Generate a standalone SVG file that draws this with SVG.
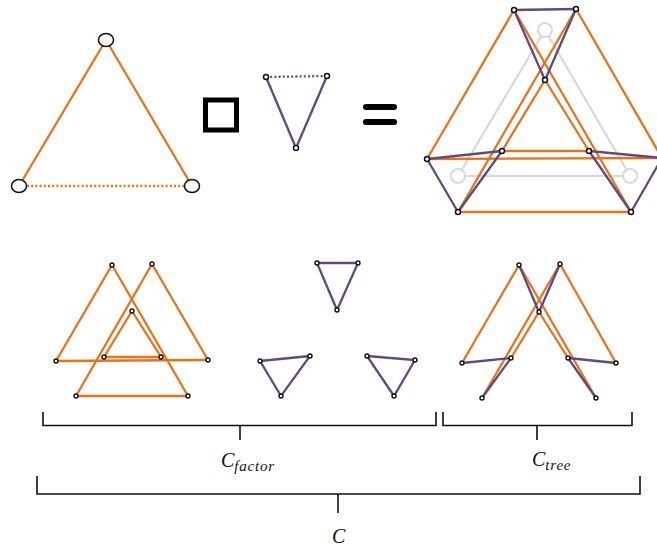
<svg xmlns="http://www.w3.org/2000/svg" width="657" height="548" viewBox="0 0 657 548">
<style>
.o{stroke:#e8731a;stroke-width:2.3;fill:none;stroke-linecap:round}
.p{stroke:#5f4a82;stroke-width:2.3;fill:none;stroke-linecap:round}
.g{stroke:#d9d9d9;stroke-width:2.2;fill:none}
.gn{stroke:#d9d9d9;stroke-width:2;fill:#fff}
.dot{stroke-dasharray:2 2.2;stroke-linecap:butt}
.n{fill:#fff;stroke:#111;stroke-width:1.5}
.bn{fill:#fff;stroke:#111;stroke-width:1.4}
.br{stroke:#111;stroke-width:1.6;fill:none}
.lbl{font-family:"Liberation Serif","DejaVu Serif",serif;font-style:italic;fill:#111}
.sub{font-size:15px;letter-spacing:0.8px}
</style>
<rect width="657" height="548" fill="#fff"/>
<g id="connectors">
  <line class="o" x1="106" y1="40" x2="19" y2="186"/>
  <line class="o" x1="106" y1="40" x2="192" y2="186"/>
  <line class="o dot" x1="27" y1="186" x2="184" y2="186"/>
  <line class="p dot" x1="266" y1="77" x2="327" y2="76"/>
  <line class="p" x1="266" y1="77" x2="296" y2="148"/>
  <line class="p" x1="327" y1="76" x2="296" y2="148"/>
  <polygon class="g" points="545,30 458,176 630,176"/>
  <line class="o" x1="514" y1="10" x2="427" y2="159"/>
  <line class="o" x1="427" y1="159" x2="662" y2="158"/>
  <line class="o" x1="576" y1="9" x2="662" y2="158"/>
  <line class="o" x1="576" y1="9" x2="458" y2="212"/>
  <line class="o" x1="458" y1="212" x2="631" y2="212"/>
  <line class="o" x1="514" y1="10" x2="631" y2="212"/>
  <line class="o" x1="545" y1="80" x2="502" y2="151"/>
  <line class="o" x1="545" y1="80" x2="589" y2="151"/>
  <line class="o" x1="502" y1="151" x2="589" y2="151"/>
  <line class="p" x1="514" y1="10" x2="576" y2="9"/>
  <line class="p" x1="514" y1="10" x2="545" y2="80"/>
  <line class="p" x1="576" y1="9" x2="545" y2="80"/>
  <line class="p" x1="427" y1="159" x2="502" y2="151"/>
  <line class="p" x1="427" y1="159" x2="458" y2="212"/>
  <line class="p" x1="502" y1="151" x2="458" y2="212"/>
  <line class="p" x1="589" y1="151" x2="662" y2="158"/>
  <line class="p" x1="589" y1="151" x2="631" y2="212"/>
  <line class="p" x1="662" y1="158" x2="631" y2="212"/>
  <line class="o" x1="112" y1="265" x2="56" y2="361"/>
  <line class="o" x1="56" y1="361" x2="208" y2="360"/>
  <line class="o" x1="208" y1="360" x2="152" y2="264"/>
  <line class="o" x1="152" y1="264" x2="76" y2="396"/>
  <line class="o" x1="76" y1="396" x2="188" y2="396"/>
  <line class="o" x1="188" y1="396" x2="112" y2="265"/>
  <line class="o" x1="132" y1="311" x2="104" y2="357"/>
  <line class="o" x1="132" y1="311" x2="161" y2="357"/>
  <line class="o" x1="104" y1="357" x2="161" y2="357"/>
  <polygon class="p" points="317,263 358,263 337,310"/>
  <polygon class="p" points="260,361 310,356 281,396"/>
  <polygon class="p" points="367,356 415,360 394,396"/>
  <line class="o" x1="519" y1="265" x2="462" y2="363"/>
  <line class="o" x1="560" y1="264" x2="616" y2="363"/>
  <line class="o" x1="560" y1="264" x2="482" y2="398"/>
  <line class="o" x1="519" y1="265" x2="596" y2="398"/>
  <line class="o" x1="539" y1="312" x2="511" y2="358"/>
  <line class="o" x1="539" y1="312" x2="568" y2="358"/>
  <line class="p" x1="519" y1="265" x2="539" y2="312"/>
  <line class="p" x1="560" y1="264" x2="539" y2="312"/>
  <line class="p" x1="462" y1="363" x2="511" y2="358"/>
  <line class="p" x1="511" y1="358" x2="482" y2="398"/>
  <line class="p" x1="568" y1="358" x2="616" y2="363"/>
  <line class="p" x1="568" y1="358" x2="596" y2="398"/>
</g>
<g id="factor-A">
  <ellipse class="n" cx="106" cy="40" rx="7.5" ry="6.5"/>
  <ellipse class="n" cx="19" cy="186" rx="7.5" ry="6.5"/>
  <ellipse class="n" cx="192" cy="186" rx="7.5" ry="6.5"/>
</g>
<g id="box-op">
  <rect x="205.5" y="100" width="31" height="30" fill="none" stroke="#000" stroke-width="5"/>
</g>
<g id="factor-B">
  <circle class="n" cx="266" cy="77" r="2.5"/>
  <circle class="n" cx="327" cy="76" r="2.5"/>
  <circle class="n" cx="296" cy="148" r="2.5"/>
</g>
<g id="equals">
  <line x1="366" y1="107" x2="394" y2="107" stroke="#000" stroke-width="6" stroke-linecap="round"/>
  <line x1="366" y1="122" x2="394" y2="122" stroke="#000" stroke-width="6" stroke-linecap="round"/>
</g>
<g id="product">
  <circle class="gn" cx="545" cy="30" r="7"/>
  <circle class="gn" cx="458" cy="176" r="7"/>
  <circle class="gn" cx="630" cy="176" r="7"/>
  <circle class="n" cx="514" cy="10" r="2.5"/>
  <circle class="n" cx="576" cy="9" r="2.5"/>
  <circle class="n" cx="545" cy="80" r="2.5"/>
  <circle class="n" cx="427" cy="159" r="2.5"/>
  <circle class="n" cx="502" cy="151" r="2.5"/>
  <circle class="n" cx="458" cy="212" r="2.5"/>
  <circle class="n" cx="589" cy="151" r="2.5"/>
  <circle class="n" cx="631" cy="212" r="2.5"/>
  <circle class="n" cx="662" cy="158" r="2.5"/>
</g>
<g id="c-factor">
  <circle class="bn" cx="112" cy="265" r="2"/>
  <circle class="bn" cx="152" cy="264" r="2"/>
  <circle class="bn" cx="132" cy="311" r="2"/>
  <circle class="bn" cx="56" cy="361" r="2"/>
  <circle class="bn" cx="104" cy="357" r="2"/>
  <circle class="bn" cx="161" cy="357" r="2"/>
  <circle class="bn" cx="208" cy="360" r="2"/>
  <circle class="bn" cx="76" cy="396" r="2"/>
  <circle class="bn" cx="188" cy="396" r="2"/>
  <circle class="bn" cx="317" cy="263" r="2"/>
  <circle class="bn" cx="358" cy="263" r="2"/>
  <circle class="bn" cx="337" cy="310" r="2"/>
  <circle class="bn" cx="260" cy="361" r="2"/>
  <circle class="bn" cx="310" cy="356" r="2"/>
  <circle class="bn" cx="281" cy="396" r="2"/>
  <circle class="bn" cx="367" cy="356" r="2"/>
  <circle class="bn" cx="415" cy="360" r="2"/>
  <circle class="bn" cx="394" cy="396" r="2"/>
</g>
<g id="c-tree">
  <circle class="bn" cx="519" cy="265" r="2"/>
  <circle class="bn" cx="560" cy="264" r="2"/>
  <circle class="bn" cx="539" cy="312" r="2"/>
  <circle class="bn" cx="462" cy="363" r="2"/>
  <circle class="bn" cx="511" cy="358" r="2"/>
  <circle class="bn" cx="568" cy="358" r="2"/>
  <circle class="bn" cx="616" cy="363" r="2"/>
  <circle class="bn" cx="482" cy="398" r="2"/>
  <circle class="bn" cx="596" cy="398" r="2"/>
</g>
<g id="brace-factor">
  <path class="br" d="M43,412 V425.5 H436 V412 M240,425.5 V440"/>
  <text class="lbl" x="221" y="467" font-size="20">C<tspan class="sub" dy="4">factor</tspan></text>
</g>
<g id="brace-tree">
  <path class="br" d="M443,412 V425.5 H632 V412 M537,425.5 V440"/>
  <text class="lbl" x="532" y="466" font-size="20">C<tspan class="sub" dy="4">tree</tspan></text>
</g>
<g id="brace-all">
  <path class="br" d="M37,476 V494 H640 V476 M338,494 V513"/>
  <text class="lbl" x="332" y="543" font-size="20">C</text>
</g>
</svg>
